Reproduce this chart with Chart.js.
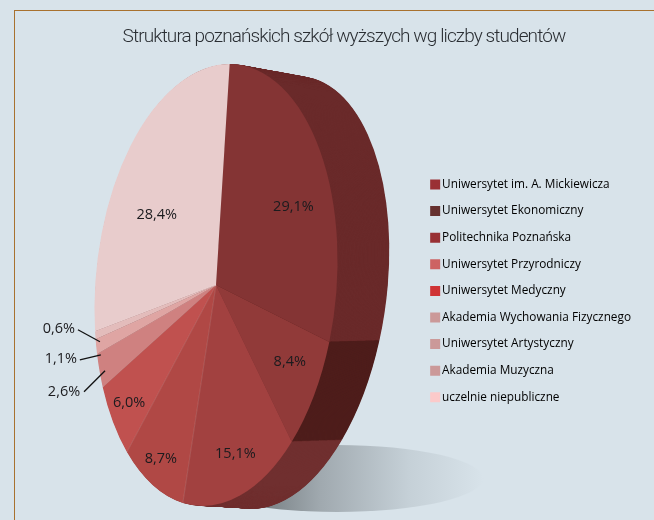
<!DOCTYPE html>
<html lang="pl"><head><meta charset="utf-8">
<script src="https://cdn.jsdelivr.net/npm/chart.js@4"></script>
<style>
html,body{margin:0;padding:0;background:#d8e3ea;width:654px;height:520px;overflow:hidden}
#frame{position:absolute;left:14px;top:10px;right:0;bottom:0;border-top:1px solid #a8712f;border-left:1px solid #a8712f}
#wrap{position:absolute;left:0;top:0;width:654px;height:520px}
</style></head><body>
<div id="frame"></div>
<div id="wrap"><canvas id="c" width="654" height="520"></canvas></div>
<script>
const titleText = 'Struktura poznańskich szkół wyższych wg liczby studentów';
const categories = ['Uniwersytet im. A. Mickiewicza','Uniwersytet Ekonomiczny','Politechnika Poznańska','Uniwersytet Przyrodniczy','Uniwersytet Medyczny','Akademia Wychowania Fizycznego','Uniwersytet Artystyczny','Akademia Muzyczna','uczelnie niepubliczne'];
const shares = [29.1, 8.4, 15.1, 8.7, 6.0, 2.6, 1.1, 0.6, 28.4];
const sliceColors = ['#843434','#913a39','#a24140','#b04845','#c0514f','#cf8180','#dfa5a3','#e3bcbb','#e8cccc'];
const sideColors  = ['#6a2a2a','#4e1d1b','#702f2f','#702f2f','#702f2f','#702f2f','#702f2f','#702f2f','#702f2f'];
const legendColors = ['#9a3034','#66312f','#983034','#cd6363','#cf3335','#cb9999','#cb9999','#cb9999','#fccaca'];
// label nudges (px) relative to each slice's projected anchor
const labelNudge = [[15,2],[15,10],[5,43],[-17,54],[-25,36],[-39,23.5],[-39,14],[-40,-5],[-8,13]];
const leaderFrom = {5:[-19,23.5],6:[-20,15],7:[-21,-4]};
const leaderTo   = {5:[2,2.5],6:[1,10],7:[1,8]};

const G = {cx:216, cy:285, rx:120.5, ry:221.5, tilt:4.9*Math.PI/180, R:100};
const X = {a:-0.066, b:-0.0255, c:59, A:-0.066, B:-0.0255, C:7.5, steps:90};

function pieMatrix(el, t){
  // t=0 front face, t=1 back face of the extruded disc
  const e = new DOMMatrix([1+t*X.a, t*X.A, t*X.b, 1+t*X.B, t*X.c, t*X.C]);
  return new DOMMatrix().translate(G.cx,G.cy).multiply(e)
    .rotate(G.tilt*180/Math.PI).scale(G.rx/G.R,G.ry/G.R).translate(-el.x,-el.y);
}
function applyM(ctx,m){ ctx.transform(m.a,m.b,m.c,m.d,m.e,m.f); }

const pie3d = {
  id:'pie3d',
  afterLayout(chart){
    const tb = chart.titleBlock;
    if(tb && !tb._spaced){
      tb._spaced = true;
      const orig = tb.draw;
      tb.draw = function(){ const c=chart.ctx; c.save(); c.letterSpacing='-0.9px'; orig.call(tb); c.restore(); };
    }
  },
  beforeDatasetsDraw(chart){
    const ctx = chart.ctx, arcs = chart.getDatasetMeta(0).data;
    // floor shadow
    ctx.save();
    const g = ctx.createLinearGradient(232,0,484,0);
    g.addColorStop(0,'#646c6f'); g.addColorStop(.35,'#a0a9af'); g.addColorStop(.7,'#c5d0d7'); g.addColorStop(1,'#d8e3ea');
    ctx.fillStyle = g;
    ctx.beginPath(); ctx.ellipse(337,478.5,146,33.5,0,0,Math.PI*2); ctx.fill();
    ctx.restore();
    // extruded side
    for(let s=X.steps;s>=1;s--){
      const t = s/X.steps;
      arcs.forEach((el,i)=>{
        ctx.save(); applyM(ctx,pieMatrix(el,t));
        ctx.fillStyle = sideColors[i];
        ctx.beginPath(); ctx.moveTo(el.x,el.y);
        ctx.arc(el.x,el.y,el.outerRadius,el.startAngle,el.endAngle);
        ctx.closePath(); ctx.fill(); ctx.restore();
      });
    }
    ctx.save(); applyM(ctx,pieMatrix(arcs[0],0));
  },
  afterDatasetsDraw(chart){
    const ctx = chart.ctx, arcs = chart.getDatasetMeta(0).data;
    // hairlines between slices (drawn inside the transformed space)
    arcs.forEach((el,i)=>{
      if(i<3) return;
      ctx.save();
      ctx.strokeStyle='rgba(255,235,235,'+(i===8?0.5:0.28)+')'; ctx.lineWidth=0.3;
      ctx.beginPath(); ctx.moveTo(el.x,el.y);
      ctx.lineTo(el.x+el.outerRadius*Math.cos(el.startAngle),el.y+el.outerRadius*Math.sin(el.startAngle));
      ctx.stroke(); ctx.restore();
    });
    ctx.restore();
    // percent labels and leader lines
    ctx.save();
    ctx.font='14.5px "Open Sans"'; ctx.fillStyle='#1b1b1e';
    ctx.textAlign='center'; ctx.textBaseline='middle';
    arcs.forEach((el,i)=>{
      const mid=(el.startAngle+el.endAngle)/2, m=pieMatrix(el,0);
      const f = leaderFrom[i] ? 0.97 : 0.6;
      const p = m.transformPoint(new DOMPoint(el.x+f*el.outerRadius*Math.cos(mid), el.y+f*el.outerRadius*Math.sin(mid)));
      const txt = shares[i].toFixed(1).replace('.',',')+'%';
      ctx.fillText(txt,p.x+labelNudge[i][0],p.y+labelNudge[i][1]);
      if(leaderFrom[i]){
        ctx.strokeStyle='#111'; ctx.lineWidth=1.3;
        ctx.beginPath(); ctx.moveTo(p.x+leaderFrom[i][0],p.y+leaderFrom[i][1]);
        ctx.lineTo(p.x+leaderTo[i][0],p.y+leaderTo[i][1]); ctx.stroke();
      }
    });
    ctx.restore();
  }
};

new Chart(document.getElementById('c'),{
  type:'pie',
  data:{labels:categories,datasets:[{data:shares,backgroundColor:sliceColors,borderWidth:0,radius:G.R,rotation:-2.5,clip:false}]},
  options:{
    responsive:false,animation:false,
    layout:{padding:{left:47,right:13,top:26,bottom:0}},
    plugins:{
      tooltip:{enabled:false},
      title:{display:true,text:titleText,color:'#2a2e33',font:{family:'Roboto',size:19,weight:'300'},padding:{top:0,bottom:13}},
      legend:{position:'right',fullSize:false,onClick:null,labels:{
        boxWidth:2,boxHeight:2,padding:14.8,color:'#2a2e33',font:{family:'"Open Sans"',size:11.8},
        generateLabels(){return categories.map((c,i)=>({text:c,fillStyle:legendColors[i],strokeStyle:legendColors[i],lineWidth:8,lineCap:'butt',lineJoin:'miter',index:i}));}
      }}
    }
  },
  plugins:[pie3d]
});
</script></body></html>
